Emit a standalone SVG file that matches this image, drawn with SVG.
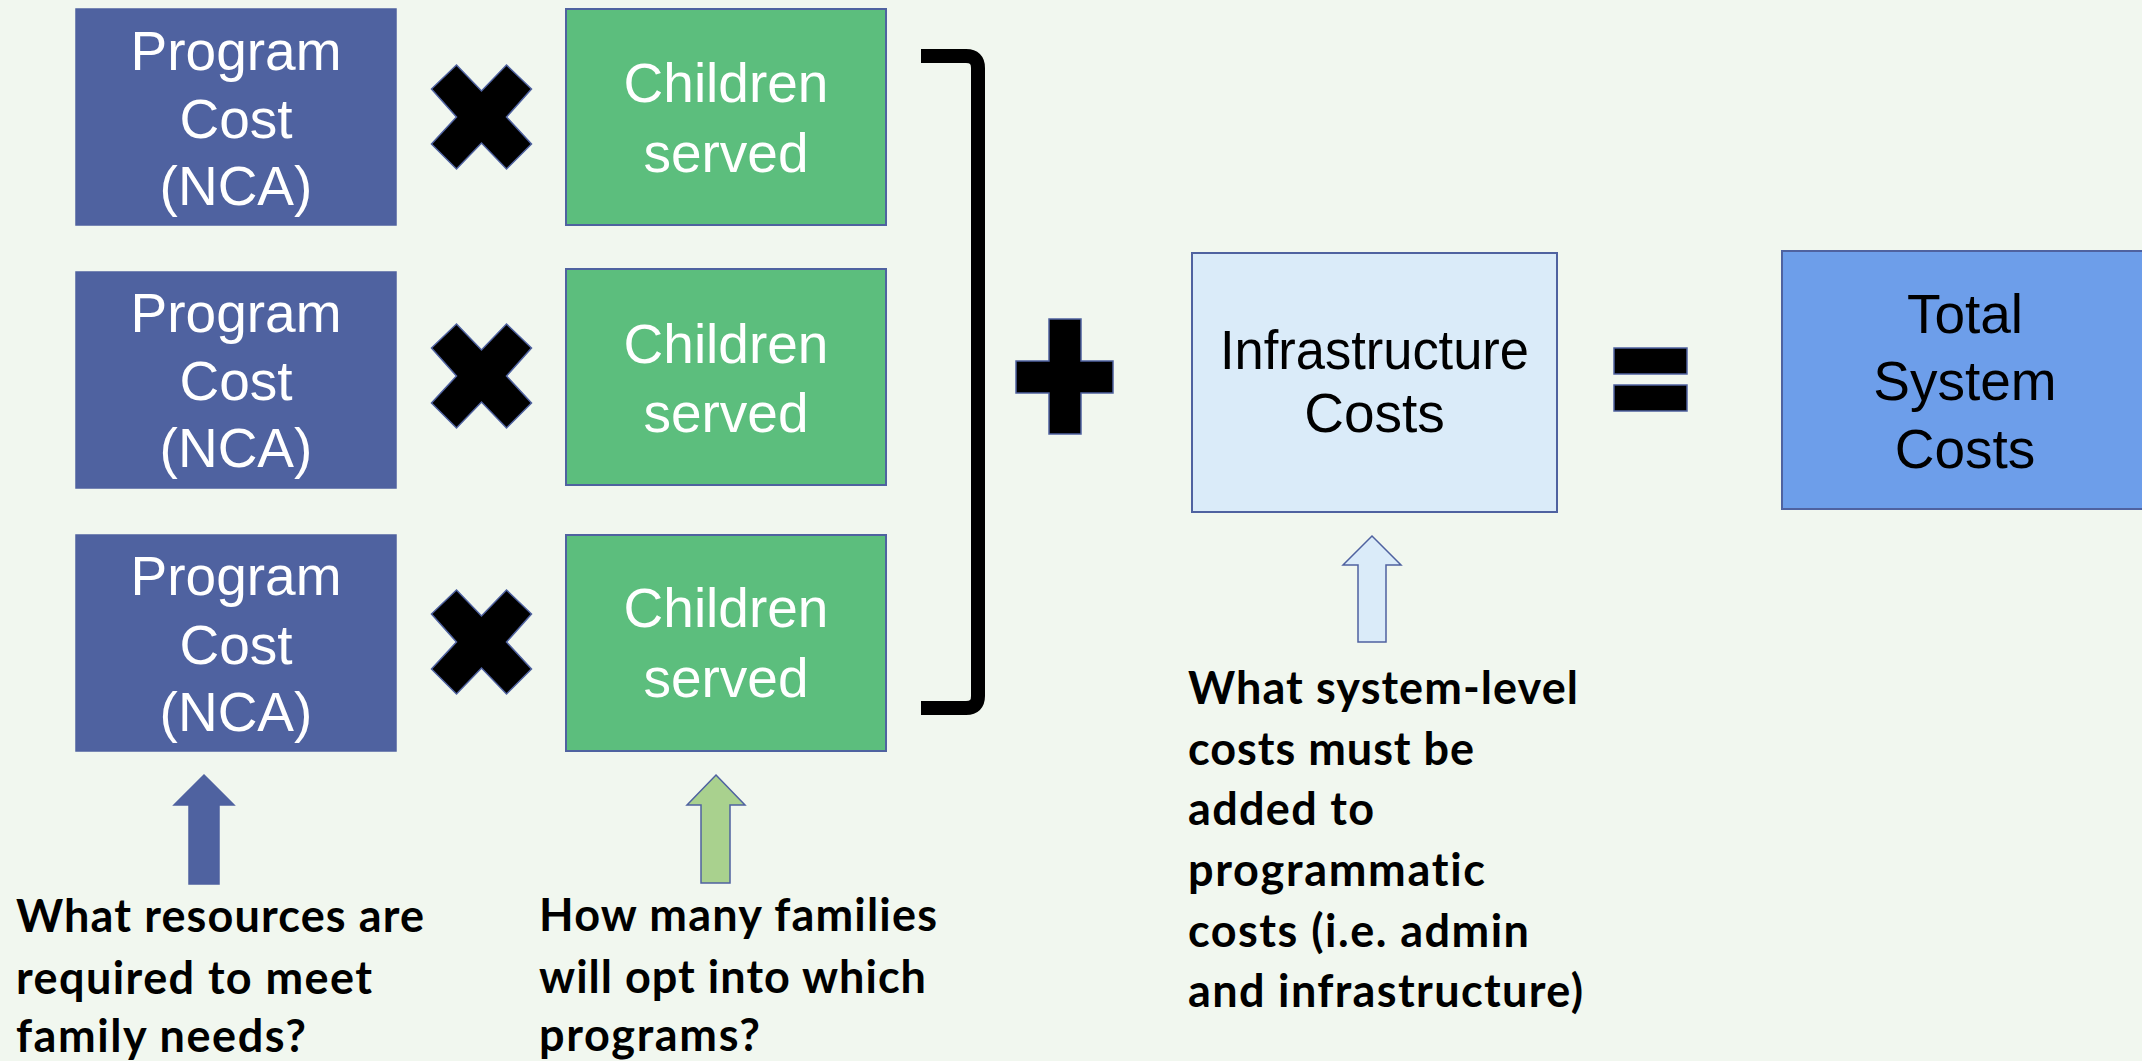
<svg xmlns="http://www.w3.org/2000/svg" width="2142" height="1061" viewBox="0 0 2142 1061">
  <style>
    .box-text { font-family: "Liberation Sans", Arial, sans-serif; font-size: 55px; text-anchor: middle; }
    .light { fill: #ffffff; }
    .dark { fill: #000000; }
    .note { font-family: Lato, "Open Sans", sans-serif; font-weight: bold; font-size: 45px; fill: #000000; font-variant-ligatures: none; font-feature-settings: "liga" 0, "clig" 0; }
    .cost { fill: #4F62A0; stroke: #4F62A0; stroke-width: 1.5; }
    .kids { fill: #5CBE7D; stroke: #4F62A0; stroke-width: 2; }
    .op { fill: #000000; stroke: #4F62A0; stroke-width: 1.5; }
  </style>
  <defs>
    <!-- multiplication sign, centred on the origin -->
    <polygon id="times" points="-25,-52 0,-26 25,-52 50,-28 25,0 50,27 25,52 0,26 -25,52 -50,27 -25,0 -50,-28"/>
  </defs>

  <rect width="2142" height="1061" fill="#F1F7EF"/>

  <!-- row 1 -->
  <g id="cost1">
    <rect class="cost" x="76" y="9" width="320" height="216"/>
    <text class="box-text light" x="236" y="70">Program</text>
    <text class="box-text light" x="236" y="138">Cost</text>
    <text class="box-text light" x="236" y="205">(NCA)</text>
  </g>
  <g id="children1">
    <rect class="kids" x="566" y="9" width="320" height="216"/>
    <text class="box-text light" x="726" y="102">Children</text>
    <text class="box-text light" x="726" y="172">served</text>
  </g>

  <!-- row 2 -->
  <g id="cost2">
    <rect class="cost" x="76" y="272" width="320" height="216"/>
    <text class="box-text light" x="236" y="332">Program</text>
    <text class="box-text light" x="236" y="400">Cost</text>
    <text class="box-text light" x="236" y="467">(NCA)</text>
  </g>
  <g id="children2">
    <rect class="kids" x="566" y="269" width="320" height="216"/>
    <text class="box-text light" x="726" y="363">Children</text>
    <text class="box-text light" x="726" y="432">served</text>
  </g>

  <!-- row 3 -->
  <g id="cost3">
    <rect class="cost" x="76" y="535" width="320" height="216"/>
    <text class="box-text light" x="236" y="595">Program</text>
    <text class="box-text light" x="236" y="664">Cost</text>
    <text class="box-text light" x="236" y="731">(NCA)</text>
  </g>
  <g id="children3">
    <rect class="kids" x="566" y="535" width="320" height="216"/>
    <text class="box-text light" x="726" y="627">Children</text>
    <text class="box-text light" x="726" y="697">served</text>
  </g>

  <!-- operators -->
  <g id="operators">
    <use href="#times" class="op" transform="translate(481.5,117)"/>
    <use href="#times" class="op" transform="translate(481.5,376)"/>
    <use href="#times" class="op" transform="translate(481.5,642)"/>
    <path d="M921,56 L966,56 Q978,56 978,68 L978,696 Q978,708 966,708 L921,708" fill="none" stroke="#000000" stroke-width="14"/>
    <path class="op" d="M1049,319 H1081 V361 H1113 V393 H1081 V434 H1049 V393 H1016 V361 H1049 Z"/>
    <rect class="op" x="1614" y="348" width="73" height="26"/>
    <rect class="op" x="1614" y="385" width="73" height="26"/>
  </g>

  <g id="infrastructure">
    <rect x="1192" y="253" width="365" height="259" fill="#DAEBF9" stroke="#4F62A0" stroke-width="2"/>
    <text class="box-text dark" x="1374.5" y="369" font-size="52" textLength="309" lengthAdjust="spacingAndGlyphs">Infrastructure</text>
    <text class="box-text dark" x="1374.5" y="432" font-size="52">Costs</text>
  </g>

  <g id="total">
    <rect x="1782" y="251" width="366" height="258" fill="#6D9EEA" stroke="#4F62A0" stroke-width="2"/>
    <text class="box-text dark" x="1965" y="333">Total</text>
    <text class="box-text dark" x="1965" y="400">System</text>
    <text class="box-text dark" x="1965" y="468">Costs</text>
  </g>

  <!-- block arrows pointing up at the boxes -->
  <g id="connectors" stroke="#4F62A0" stroke-width="1.5">
    <polygon fill="#4F62A0" points="204,775 234,805 219,805 219,884 189,884 189,805 174,805"/>
    <polygon fill="#A9D18E" points="716,775 745,805 730,805 730,883 701,883 701,805 687,805"/>
    <polygon fill="#DAEBF9" points="1372,536 1401,565 1386,565 1386,642 1358,642 1358,565 1343,565"/>
  </g>

  <g id="note-resources">
    <text class="note" x="16" y="932" textLength="408">What resources are</text>
    <text class="note" x="16" y="994" textLength="356">required to meet</text>
    <text class="note" x="16" y="1052" textLength="290">family needs?</text>
  </g>
  <g id="note-families">
    <text class="note" x="539" y="931" textLength="398">How many families</text>
    <text class="note" x="539" y="993" textLength="387">will opt into which</text>
    <text class="note" x="539" y="1051" textLength="221">programs?</text>
  </g>
  <g id="note-system">
    <text class="note" x="1188" y="704" textLength="390">What system-level</text>
    <text class="note" x="1188" y="765" textLength="286">costs must be</text>
    <text class="note" x="1188" y="825" textLength="186">added to</text>
    <text class="note" x="1188" y="886" textLength="297">programmatic</text>
    <text class="note" x="1188" y="947" textLength="341">costs (i.e. admin</text>
    <text class="note" x="1188" y="1007" textLength="395">and infrastructure)</text>
  </g>
</svg>
